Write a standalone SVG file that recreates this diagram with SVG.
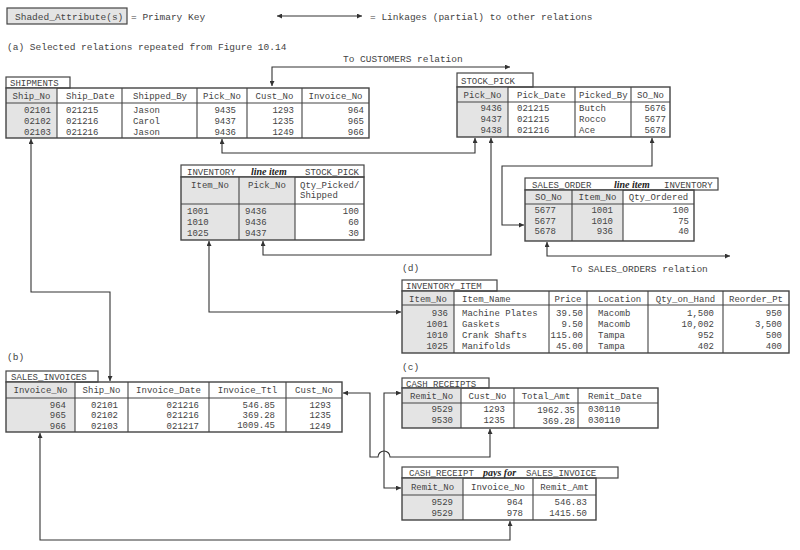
<svg xmlns="http://www.w3.org/2000/svg" width="800" height="550" viewBox="0 0 800 550">
<defs>
<marker id="a" viewBox="0 0 10 10" refX="10" refY="5" markerWidth="7" markerHeight="5" orient="auto-start-reverse" markerUnits="userSpaceOnUse"><path d="M0,0 L10,5 L0,10 z" fill="#333"/></marker>
<style>
.t{font-family:"Liberation Mono","DejaVu Sans Mono",monospace;font-size:9px;fill:#444}
.lg{font-size:9.5px}
.r{text-anchor:end}
.m{text-anchor:middle}
.bi{font-family:"Liberation Serif","Times New Roman",serif;font-weight:bold;font-style:italic;font-size:10px;fill:#222}
.box{fill:#fff;stroke:#444;stroke-width:1.2}
.fr{fill:none;stroke:#444;stroke-width:1.4}
.sh{fill:#e4e4e4;stroke:none}
.g{stroke:#444;stroke-width:1.1;fill:none}
.cn{fill:none;stroke:#333;stroke-width:1.1;marker-start:url(#a);marker-end:url(#a)}
</style>
</defs>
<rect width="800" height="550" fill="#fff"/>

<g id="legend">
<rect x="7" y="8" width="120" height="16" fill="#e4e4e4" stroke="#444" stroke-width="1.2"/>
<text class="t lg" x="15" y="19.5">Shaded_Attribute(s)</text>
<text class="t lg" x="131" y="19.5">= Primary Key</text>
<path class="cn" d="M277,16 H362"/>
<text class="t lg" x="370" y="19.5">= Linkages (partial) to other relations</text>
<text class="t lg" x="7" y="50">(a) Selected relations repeated from Figure 10.14</text>
<text class="t lg" x="343" y="62">To CUSTOMERS relation</text>
<text class="t lg" x="402" y="271">(d)</text>
<text class="t lg" x="571" y="272">To SALES_ORDERS relation</text>
<text class="t lg" x="7" y="360">(b)</text>
<text class="t lg" x="402" y="370">(c)</text>
</g>

<g id="connectors">
<path class="cn" d="M510,67 H272 V86"/>
<path class="cn" d="M31,139 V292 H110 V381"/>
<path class="cn" d="M222,139 V153 H475 V138"/>
<path class="cn" d="M263,241 V255 H491 V138"/>
<path class="cn" d="M652,138 V166 H502 V225 H524"/>
<path class="cn" d="M209,241 V312 H401"/>
<path class="cn" d="M547,242 V256 H730"/>
<path class="cn" d="M343,393 H370 V457 H378 A6,6 0 0 1 390,457 H490 V429"/>
<path class="cn" d="M401,393 H384 V488 H401"/>
<path class="cn" d="M40,433 V540 H510 V521"/>
</g>

<g id="shipments">
<rect class="box" x="6" y="77" width="64" height="11"/>
<text class="t" x="10" y="86">SHIPMENTS</text>
<rect class="sh" x="6" y="88" width="51" height="50"/>
<path class="g" d="M57,88 V138 M122,88 V138 M197,88 V138 M247,88 V138 M302,88 V138 M6,103 H369"/>
<rect class="fr" x="6" y="88" width="363" height="50"/>
<text class="t m" x="31.5" y="99">Ship_No</text>
<text class="t" x="66" y="99">Ship_Date</text>
<text class="t" x="133" y="99">Shipped_By</text>
<text class="t m" x="222" y="99">Pick_No</text>
<text class="t m" x="274.5" y="99">Cust_No</text>
<text class="t m" x="335.5" y="99">Invoice_No</text>
<text class="t r" x="51" y="113">02101</text><text class="t r" x="51" y="124">02102</text><text class="t r" x="51" y="135">02103</text>
<text class="t" x="66" y="113">021215</text><text class="t" x="66" y="124">021216</text><text class="t" x="66" y="135">021216</text>
<text class="t" x="133" y="113">Jason</text><text class="t" x="133" y="124">Carol</text><text class="t" x="133" y="135">Jason</text>
<text class="t r" x="236" y="113">9435</text><text class="t r" x="236" y="124">9437</text><text class="t r" x="236" y="135">9436</text>
<text class="t r" x="294" y="113">1293</text><text class="t r" x="294" y="124">1235</text><text class="t r" x="294" y="135">1249</text>
<text class="t r" x="364" y="113">964</text><text class="t r" x="364" y="124">965</text><text class="t r" x="364" y="135">966</text>
</g>

<g id="stock_pick">
<rect class="box" x="457" y="73" width="76" height="14"/>
<text class="t" x="461" y="83.5">STOCK_PICK</text>
<rect class="sh" x="457" y="87" width="51" height="50"/>
<path class="g" d="M508,87 V137 M575,87 V137 M631,87 V137 M457,102 H670"/>
<rect class="fr" x="457" y="87" width="213" height="50"/>
<text class="t m" x="482.5" y="98">Pick_No</text>
<text class="t" x="517" y="98">Pick_Date</text>
<text class="t" x="579" y="98">Picked_By</text>
<text class="t m" x="650.5" y="98">SO_No</text>
<text class="t r" x="502" y="111">9436</text><text class="t r" x="502" y="122">9437</text><text class="t r" x="502" y="133">9438</text>
<text class="t" x="517" y="111">021215</text><text class="t" x="517" y="122">021215</text><text class="t" x="517" y="133">021216</text>
<text class="t" x="579" y="111">Butch</text><text class="t" x="579" y="122">Rocco</text><text class="t" x="579" y="133">Ace</text>
<text class="t r" x="666" y="111">5676</text><text class="t r" x="666" y="122">5677</text><text class="t r" x="666" y="133">5678</text>
</g>

<g id="inventory_line_item">
<rect class="box" x="181" y="165" width="183" height="12"/>
<text class="t" x="187" y="174.5">INVENTORY</text>
<text class="bi" x="251" y="174.5">line item</text>
<text class="t" x="305" y="174.5">STOCK_PICK</text>
<rect class="sh" x="181" y="177" width="114" height="63"/>
<path class="g" d="M239,177 V240 M295,177 V240 M181,204 H364"/>
<rect class="fr" x="181" y="177" width="183" height="63"/>
<text class="t m" x="210" y="187.5">Item_No</text>
<text class="t m" x="267" y="187.5">Pick_No</text>
<text class="t" x="300" y="187.5">Qty_Picked/</text>
<text class="t" x="300" y="197.5">Shipped</text>
<text class="t" x="187" y="214">1001</text><text class="t" x="187" y="225">1010</text><text class="t" x="187" y="236">1025</text>
<text class="t" x="245" y="214">9436</text><text class="t" x="245" y="225">9436</text><text class="t" x="245" y="236">9437</text>
<text class="t r" x="359" y="214">100</text><text class="t r" x="359" y="225">60</text><text class="t r" x="359" y="236">30</text>
</g>

<g id="sales_order_line_item">
<rect class="box" x="525" y="178" width="193" height="12"/>
<text class="t" x="532" y="187.5">SALES_ORDER</text>
<text class="bi" x="614" y="187.5">line item</text>
<text class="t" x="664" y="187.5">INVENTORY</text>
<rect class="sh" x="525" y="190" width="98" height="51"/>
<path class="g" d="M572,190 V241 M623,190 V241 M525,204 H694"/>
<rect class="fr" x="525" y="190" width="169" height="51"/>
<text class="t m" x="548.5" y="200">SO_No</text>
<text class="t m" x="597.5" y="200">Item_No</text>
<text class="t m" x="658.5" y="200">Qty_Ordered</text>
<text class="t r" x="556" y="213">5677</text><text class="t r" x="556" y="223.5">5677</text><text class="t r" x="556" y="234">5678</text>
<text class="t r" x="613" y="213">1001</text><text class="t r" x="613" y="223.5">1010</text><text class="t r" x="613" y="234">936</text>
<text class="t r" x="689" y="213">100</text><text class="t r" x="689" y="223.5">75</text><text class="t r" x="689" y="234">40</text>
</g>

<g id="inventory_item">
<rect class="box" x="402" y="280" width="95" height="11"/>
<text class="t" x="406" y="289">INVENTORY_ITEM</text>
<rect class="sh" x="402" y="291" width="52" height="62"/>
<path class="g" d="M454,291 V353 M549,291 V353 M587,291 V353 M648,291 V353 M723,291 V353 M402,305 H789"/>
<rect class="fr" x="402" y="291" width="387" height="62"/>
<text class="t m" x="428" y="301.5">Item_No</text>
<text class="t" x="462" y="301.5">Item_Name</text>
<text class="t m" x="568" y="301.5">Price</text>
<text class="t" x="598" y="301.5">Location</text>
<text class="t m" x="685.5" y="301.5">Qty_on_Hand</text>
<text class="t m" x="756" y="301.5">Reorder_Pt</text>
<text class="t r" x="448" y="316">936</text><text class="t r" x="448" y="327">1001</text><text class="t r" x="448" y="338">1010</text><text class="t r" x="448" y="349">1025</text>
<text class="t" x="462" y="316">Machine Plates</text><text class="t" x="462" y="327">Gaskets</text><text class="t" x="462" y="338">Crank Shafts</text><text class="t" x="462" y="349">Manifolds</text>
<text class="t r" x="583" y="316">39.50</text><text class="t r" x="583" y="327">9.50</text><text class="t r" x="583" y="338">115.00</text><text class="t r" x="583" y="349">45.00</text>
<text class="t" x="598" y="316">Macomb</text><text class="t" x="598" y="327">Macomb</text><text class="t" x="598" y="338">Tampa</text><text class="t" x="598" y="349">Tampa</text>
<text class="t r" x="714" y="316">1,500</text><text class="t r" x="714" y="327">10,002</text><text class="t r" x="714" y="338">952</text><text class="t r" x="714" y="349">402</text>
<text class="t r" x="782" y="316">950</text><text class="t r" x="782" y="327">3,500</text><text class="t r" x="782" y="338">500</text><text class="t r" x="782" y="349">400</text>
</g>

<g id="sales_invoices">
<rect class="box" x="6" y="371" width="92" height="11"/>
<text class="t" x="11" y="380">SALES_INVOICES</text>
<rect class="sh" x="6" y="382" width="69" height="50"/>
<path class="g" d="M75,382 V432 M128,382 V432 M209,382 V432 M286,382 V432 M6,398 H342"/>
<rect class="fr" x="6" y="382" width="336" height="50"/>
<text class="t m" x="40.5" y="393">Invoice_No</text>
<text class="t m" x="101.5" y="393">Ship_No</text>
<text class="t m" x="168.5" y="393">Invoice_Date</text>
<text class="t m" x="247.5" y="393">Invoice_Ttl</text>
<text class="t m" x="314" y="393">Cust_No</text>
<text class="t r" x="66" y="407.5">964</text><text class="t r" x="66" y="418">965</text><text class="t r" x="66" y="428.5">966</text>
<text class="t r" x="118" y="407.5">02101</text><text class="t r" x="118" y="418">02102</text><text class="t r" x="118" y="428.5">02103</text>
<text class="t r" x="199" y="407.5">021216</text><text class="t r" x="199" y="418">021216</text><text class="t r" x="199" y="428.5">021217</text>
<text class="t r" x="275" y="407.5">546.85</text><text class="t r" x="275" y="418">369.28</text><text class="t r" x="275" y="427.5">1009.45</text>
<text class="t r" x="331" y="407.5">1293</text><text class="t r" x="331" y="418">1235</text><text class="t r" x="331" y="428.5">1249</text>
</g>

<g id="cash_receipts">
<rect class="box" x="402" y="378" width="87" height="10"/>
<text class="t" x="406" y="386.5">CASH_RECEIPTS</text>
<rect class="sh" x="402" y="388" width="59" height="40"/>
<path class="g" d="M461,388 V428 M514,388 V428 M578,388 V428 M402,403 H658"/>
<rect class="fr" x="402" y="388" width="256" height="40"/>
<text class="t m" x="431.5" y="398.5">Remit_No</text>
<text class="t m" x="487.5" y="398.5">Cust_No</text>
<text class="t m" x="546" y="398.5">Total_Amt</text>
<text class="t" x="588" y="398.5">Remit_Date</text>
<text class="t r" x="453" y="412">9529</text><text class="t r" x="453" y="422.5">9530</text>
<text class="t r" x="505" y="412">1293</text><text class="t r" x="505" y="422.5">1235</text>
<text class="t r" x="575" y="413">1962.35</text><text class="t r" x="575" y="424">369.28</text>
<text class="t" x="588" y="412">030110</text><text class="t" x="588" y="422.5">030110</text>
</g>

<g id="cash_receipt_pays_for_sales_invoice">
<rect class="box" x="402" y="467" width="216" height="11"/>
<text class="t" x="409" y="476">CASH_RECEIPT</text>
<text class="bi" x="483" y="476">pays for</text>
<text class="t" x="526" y="476">SALES_INVOICE</text>
<rect class="sh" x="402" y="478" width="61" height="42"/>
<path class="g" d="M463,478 V520 M533,478 V520 M402,495 H596"/>
<rect class="fr" x="402" y="478" width="194" height="42"/>
<text class="t m" x="432.5" y="489.5">Remit_No</text>
<text class="t m" x="498" y="489.5">Invoice_No</text>
<text class="t m" x="564.5" y="489.5">Remit_Amt</text>
<text class="t r" x="453" y="505">9529</text><text class="t r" x="453" y="515.5">9529</text>
<text class="t r" x="523" y="505">964</text><text class="t r" x="523" y="515.5">978</text>
<text class="t r" x="587" y="505">546.83</text><text class="t r" x="587" y="515.5">1415.50</text>
</g>
</svg>
